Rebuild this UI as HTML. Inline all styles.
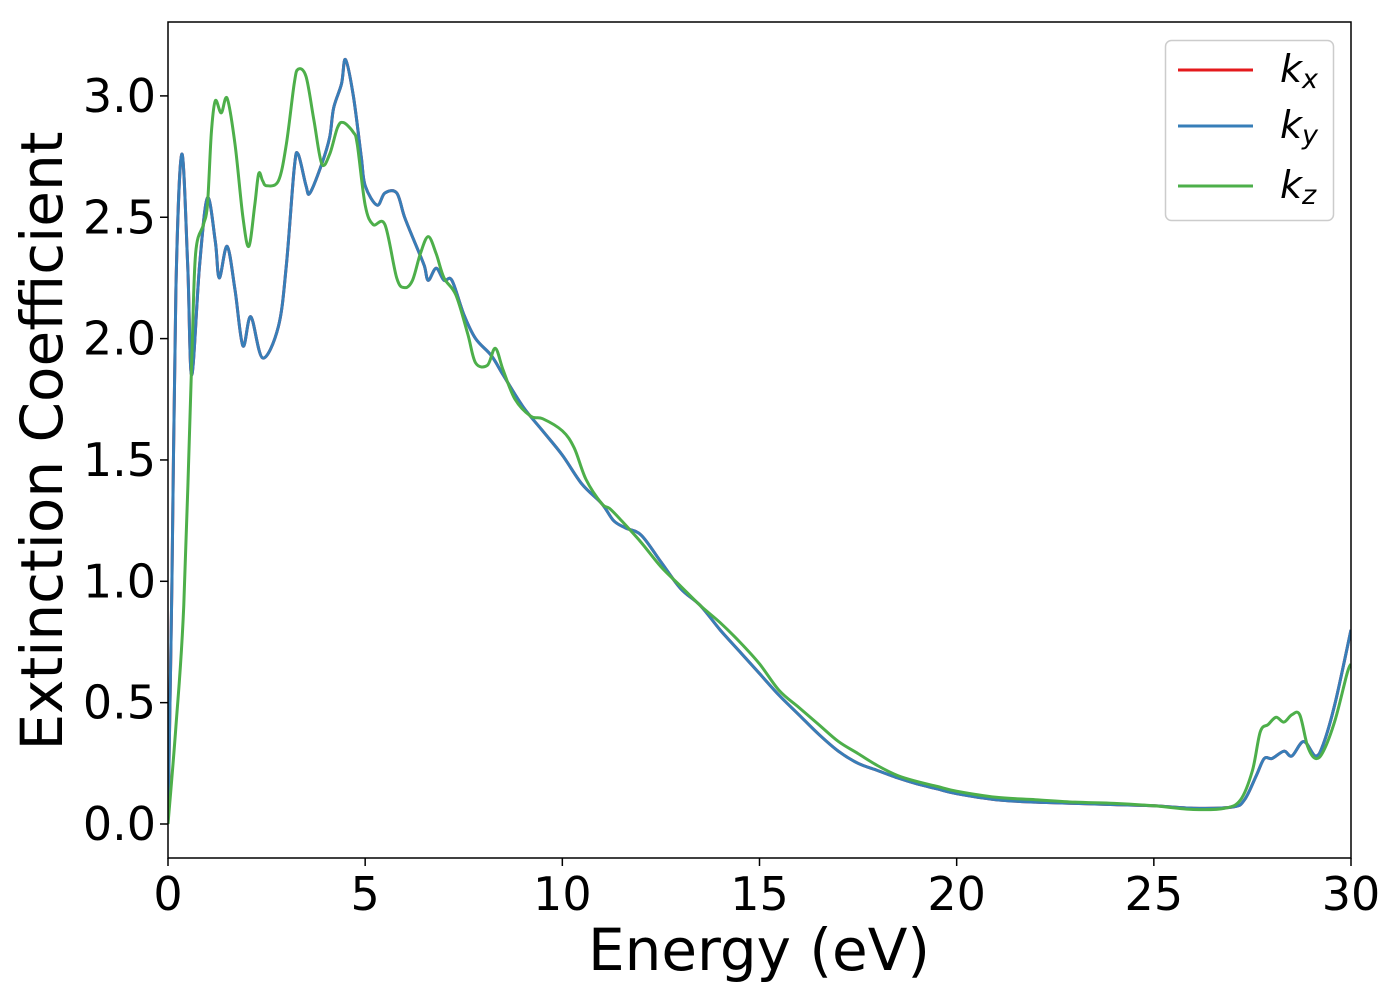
<!DOCTYPE html>
<html><head><meta charset="utf-8">
<style>
html,body{margin:0;padding:0;background:#fff;}
svg text{font-family:"DejaVu Sans","Liberation Sans",sans-serif;fill:#000;}
</style></head>
<body>
<svg id="chart" width="1400" height="1000" viewBox="0 0 1400 1000" xmlns="http://www.w3.org/2000/svg">
<g id="series"></g>
<rect x="168" y="22" width="1183" height="836" fill="none" stroke="#000" stroke-width="1.5"/>
<g id="xticks"></g>
<g id="yticks"></g>
<text x="759" y="970" font-size="58" text-anchor="middle">Energy (eV)</text>
<text transform="translate(62,441) rotate(-90)" font-size="58" text-anchor="middle">Extinction Coefficient</text>
<g>
<rect x="1165.5" y="40.5" width="168" height="180" rx="6" fill="#fff" fill-opacity="0.8" stroke="#ccc" stroke-width="1.5"/>
<line x1="1178" y1="70" x2="1253" y2="70" stroke="#e41a1c" stroke-width="3"/>
<line x1="1178" y1="126" x2="1253" y2="126" stroke="#377eb8" stroke-width="3"/>
<line x1="1178" y1="186" x2="1253" y2="186" stroke="#4daf4a" stroke-width="3"/>
<text x="1280" y="82" font-size="38" font-style="italic">k<tspan font-size="27" dy="6">x</tspan></text>
<text x="1280" y="138" font-size="38" font-style="italic">k<tspan font-size="27" dy="6">y</tspan></text>
<text x="1280" y="198" font-size="38" font-style="italic">k<tspan font-size="27" dy="6">z</tspan></text>
</g>
</svg>
<script>
const xTicks=[0,5,10,15,20,25,30];
const yTicks=[0.0,0.5,1.0,1.5,2.0,2.5,3.0];
const energyXY=[0,0.1,0.2,0.35,0.5,0.6,0.8,1.0,1.2,1.3,1.5,1.7,1.9,2.1,2.4,2.8,3.0,3.2,3.3,3.5,3.6,3.9,4.1,4.2,4.4,4.5,4.7,4.9,5.0,5.3,5.5,5.8,6.0,6.3,6.5,6.6,6.8,7.0,7.2,7.5,7.8,8.2,8.5,9.0,9.5,10,10.5,11,11.3,11.6,12,12.5,13,13.5,14,14.5,15,15.5,16,16.5,17,17.5,18,18.5,19,19.5,20,21,22,23,24,25,26,27,27.3,27.6,27.8,28,28.3,28.5,28.8,29.1,29.3,29.6,30];
const kxValues=[0.0,1.0,2.2,2.76,2.3,1.85,2.3,2.58,2.4,2.25,2.38,2.2,1.97,2.09,1.92,2.05,2.3,2.7,2.76,2.63,2.6,2.72,2.83,2.95,3.05,3.15,3.0,2.75,2.63,2.55,2.6,2.6,2.5,2.38,2.3,2.24,2.29,2.24,2.24,2.1,2.0,1.93,1.85,1.72,1.62,1.52,1.40,1.32,1.25,1.22,1.19,1.08,0.97,0.9,0.80,0.71,0.62,0.53,0.45,0.37,0.30,0.25,0.22,0.19,0.165,0.145,0.125,0.1,0.09,0.085,0.08,0.075,0.065,0.07,0.1,0.2,0.27,0.27,0.3,0.28,0.34,0.28,0.33,0.5,0.8];
const kyValues=kxValues.slice();
const energyZ=[0,0.2,0.4,0.6,0.7,0.9,1.0,1.1,1.2,1.35,1.5,1.7,1.9,2.05,2.2,2.3,2.4,2.5,2.8,3.0,3.2,3.3,3.5,3.7,3.9,4.1,4.3,4.45,4.7,4.8,5.0,5.2,5.5,5.8,6.0,6.2,6.4,6.6,6.8,7.0,7.3,7.6,7.8,8.1,8.3,8.5,8.8,9.2,9.5,10,10.3,10.6,11,11.2,11.5,12,12.5,13,13.5,14,14.5,15,15.5,16,16.5,17,17.5,18,18.5,19,19.5,20,21,22,23,24,25,26,26.8,27.2,27.5,27.7,27.9,28.1,28.3,28.5,28.7,28.9,29.1,29.3,29.6,29.9,30];
const kzValues=[0.0,0.4,0.9,1.9,2.35,2.47,2.55,2.85,2.98,2.93,2.99,2.8,2.5,2.38,2.55,2.68,2.65,2.63,2.65,2.8,3.05,3.11,3.08,2.9,2.72,2.76,2.87,2.89,2.85,2.8,2.55,2.47,2.47,2.25,2.21,2.24,2.35,2.42,2.35,2.25,2.18,2.02,1.9,1.89,1.96,1.87,1.75,1.68,1.67,1.62,1.55,1.42,1.32,1.30,1.25,1.16,1.06,0.98,0.9,0.83,0.75,0.66,0.55,0.48,0.41,0.34,0.29,0.24,0.20,0.175,0.155,0.135,0.11,0.1,0.09,0.085,0.075,0.06,0.065,0.1,0.22,0.38,0.41,0.44,0.42,0.45,0.45,0.32,0.27,0.3,0.43,0.62,0.66];

const X0=168,X1=1351,XMIN=0,XMAX=30;
const Y0=824,PXU=242.7;
function sx(v){return X0+(v-XMIN)/(XMAX-XMIN)*(X1-X0);}
function sy(v){return Y0-v*PXU;}
const NS="http://www.w3.org/2000/svg";
function pathFor(xs,ys){
  const p=xs.map((x,i)=>[sx(x),sy(ys[i])]);
  let d="M"+p[0][0].toFixed(2)+","+p[0][1].toFixed(2);
  for(let i=0;i<p.length-1;i++){
    const a=p[Math.max(0,i-1)],b=p[i],c=p[i+1],e=p[Math.min(p.length-1,i+2)];
    const c1x=b[0]+(c[0]-a[0])/6,c1y=b[1]+(c[1]-a[1])/6;
    const c2x=c[0]-(e[0]-b[0])/6,c2y=c[1]-(e[1]-b[1])/6;
    d+=" C"+c1x.toFixed(2)+","+c1y.toFixed(2)+" "+c2x.toFixed(2)+","+c2y.toFixed(2)+" "+c[0].toFixed(2)+","+c[1].toFixed(2);
  }
  return d;
}
const g=document.getElementById("series");
const clip=document.createElementNS(NS,"clipPath");clip.setAttribute("id","pc");
const cr=document.createElementNS(NS,"rect");cr.setAttribute("x",X0);cr.setAttribute("y",22);cr.setAttribute("width",X1-X0);cr.setAttribute("height",836);
clip.appendChild(cr);document.getElementById("chart").appendChild(clip);
g.setAttribute("clip-path","url(#pc)");
function addLine(xs,ys,color,name){
  const el=document.createElementNS(NS,"path");
  el.setAttribute("d",pathFor(xs,ys));
  el.setAttribute("fill","none");el.setAttribute("stroke",color);el.setAttribute("stroke-width","3");
  el.setAttribute("stroke-linejoin","round");
  
  
  g.appendChild(el);
}
addLine(energyXY,kxValues,"#e41a1c","line-kx");
addLine(energyXY,kyValues,"#377eb8","line-ky");
addLine(energyZ,kzValues,"#4daf4a","line-kz");

const xt=document.getElementById("xticks");
xTicks.forEach(v=>{
  const l=document.createElementNS(NS,"line");
  l.setAttribute("x1",sx(v));l.setAttribute("x2",sx(v));l.setAttribute("y1",858);l.setAttribute("y2",866);
  l.setAttribute("stroke","#000");l.setAttribute("stroke-width","1.5");
  
  
  xt.appendChild(l);
  const t=document.createElementNS(NS,"text");
  t.setAttribute("x",sx(v));t.setAttribute("y",910);t.setAttribute("font-size","46");t.setAttribute("text-anchor","middle");
  t.textContent=String(v);
  
  
  xt.appendChild(t);
});
const yt=document.getElementById("yticks");
yTicks.forEach(v=>{
  const l=document.createElementNS(NS,"line");
  l.setAttribute("x1",160);l.setAttribute("x2",168);l.setAttribute("y1",sy(v));l.setAttribute("y2",sy(v));
  l.setAttribute("stroke","#000");l.setAttribute("stroke-width","1.5");
  
  
  yt.appendChild(l);
  const t=document.createElementNS(NS,"text");
  t.setAttribute("x",156);t.setAttribute("y",sy(v)+16);t.setAttribute("font-size","46");t.setAttribute("text-anchor","end");
  t.textContent=v.toFixed(1);
  
  
  yt.appendChild(t);
});
</script>
</body></html>
